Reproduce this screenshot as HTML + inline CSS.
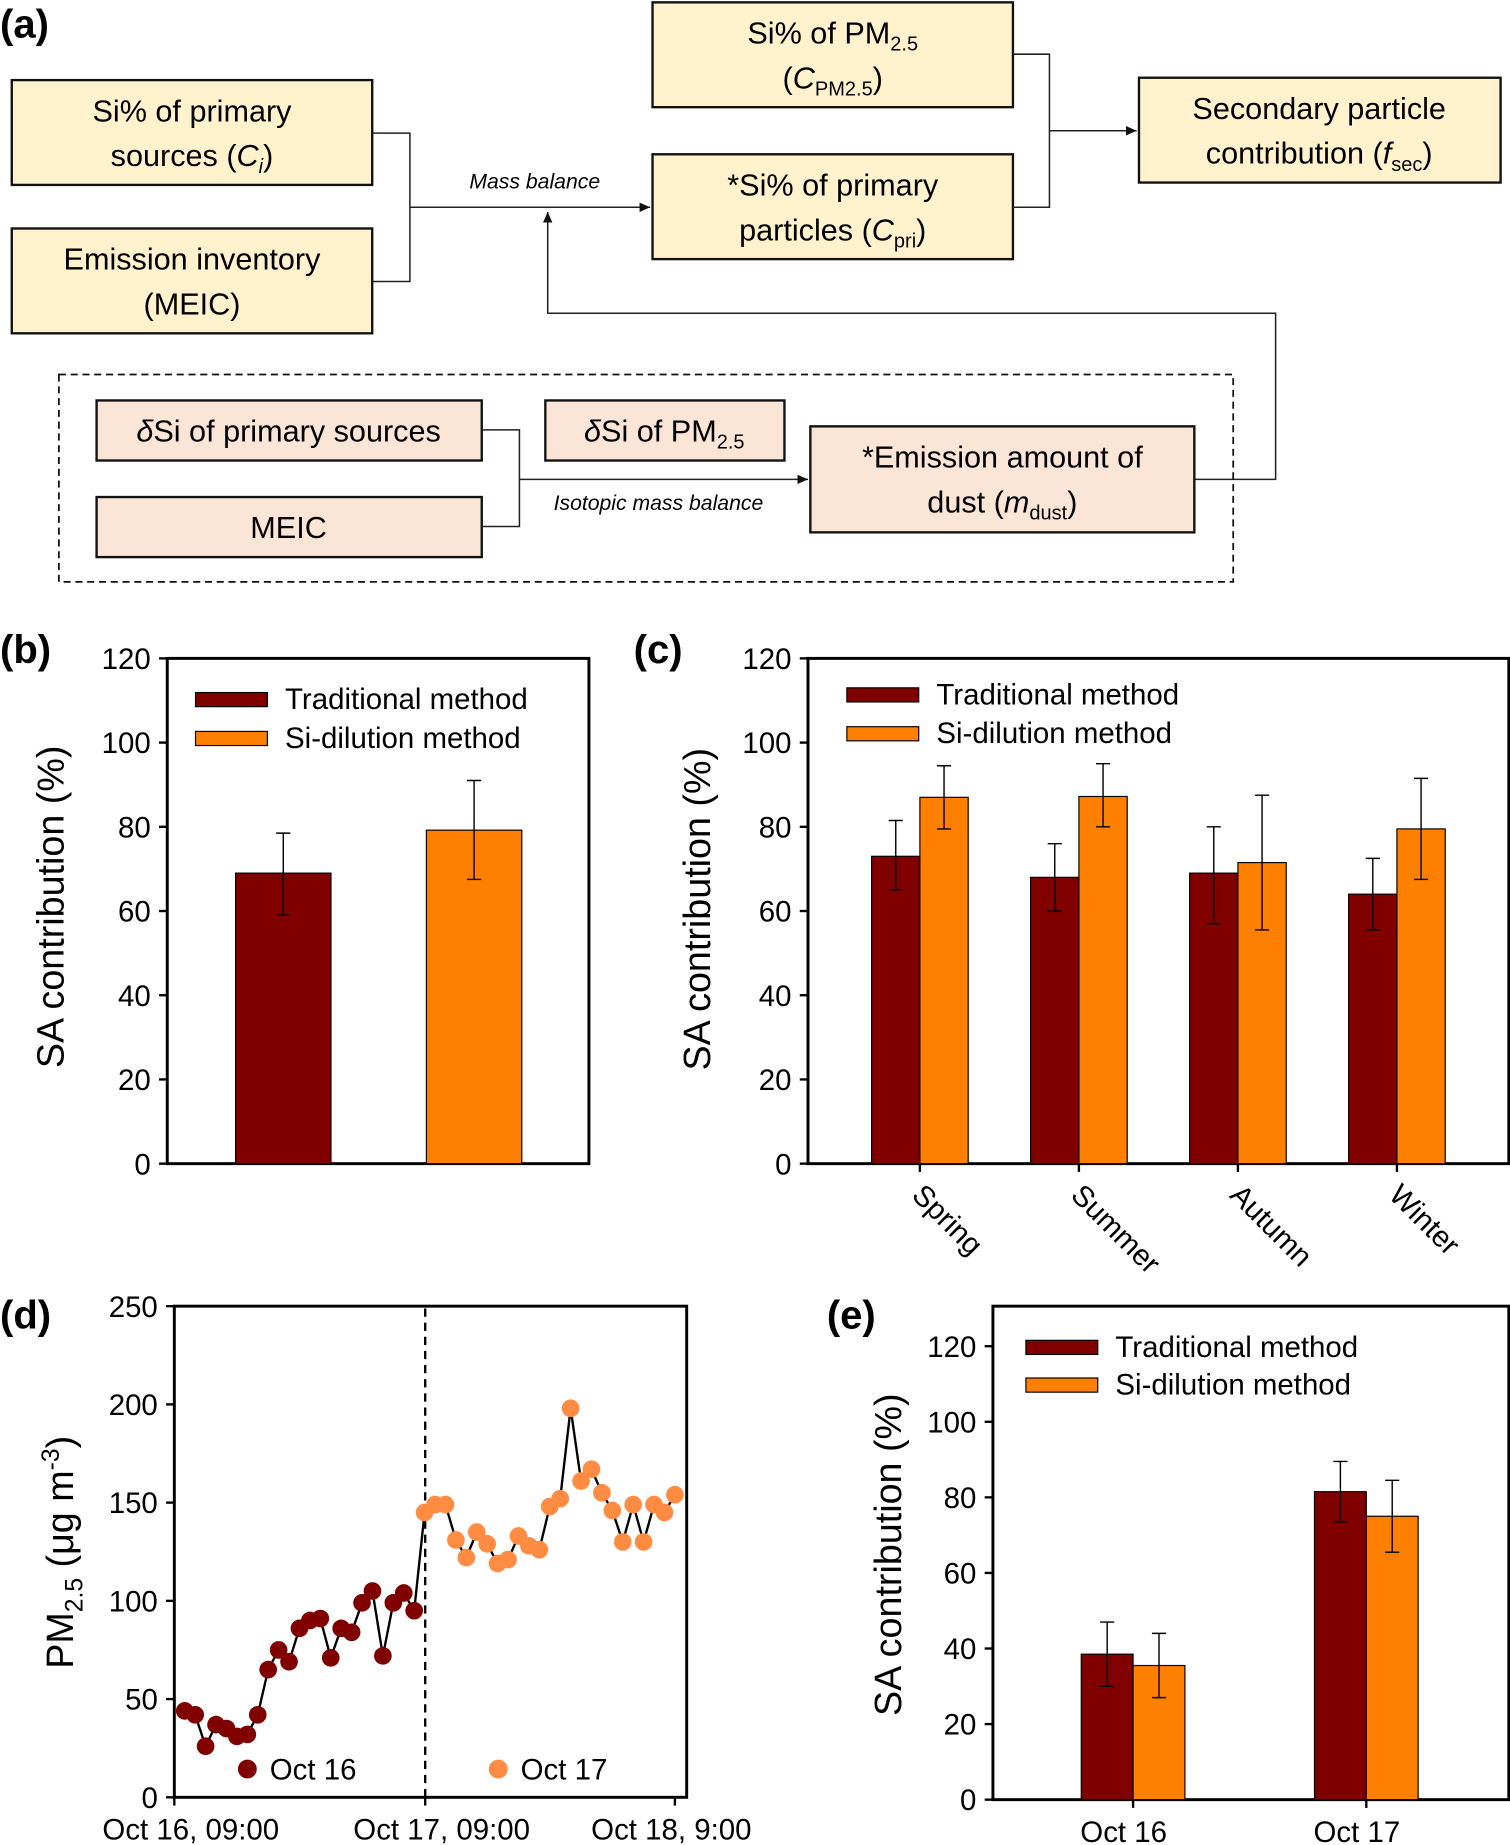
<!DOCTYPE html>
<html><head><meta charset="utf-8"><style>
html,body{margin:0;padding:0;background:#fff;}
svg{display:block;font-family:"Liberation Sans",sans-serif;}
.bx{stroke:#111;stroke-width:2;}
.dt{font-size:26px;fill:#000;text-anchor:middle;}
.ln{stroke:#222;stroke-width:1.3;fill:none;}
.tk{font-size:25px;fill:#000;}
</style></head><body>
<svg id="fig" width="1510" height="1845" viewBox="0 0 1282 1566.5" preserveAspectRatio="none" xmlns="http://www.w3.org/2000/svg">
<defs><marker id="ar" markerWidth="10" markerHeight="10" refX="9" refY="5" orient="auto" markerUnits="userSpaceOnUse"><path d="M0,1 L9,5 L0,9 Z" fill="#111"/></marker></defs>
<g>
<text x="0" y="32" font-size="34" font-weight="bold">(a)</text>
<rect class="bx" x="10" y="68" width="306" height="89" fill="#fff2cc"/>
<text class="dt" x="163" y="103">Si% of primary</text><text class="dt" x="163" y="141">sources (<tspan font-style="italic">C</tspan><tspan font-style="italic" font-size="17" dy="6">i</tspan><tspan dy="-6">)</tspan></text>
<rect class="bx" x="10" y="194" width="306" height="89" fill="#fff2cc"/>
<text class="dt" x="163" y="229">Emission inventory</text><text class="dt" x="163" y="267">(MEIC)</text>
<rect class="bx" x="554" y="2" width="306" height="89" fill="#fff2cc"/>
<text class="dt" x="707" y="37">Si% of PM<tspan font-size="17" dy="6">2.5</tspan></text><text class="dt" x="707" y="75">(<tspan font-style="italic">C</tspan><tspan font-size="17" dy="6">PM2.5</tspan><tspan dy="-6">)</tspan></text>
<rect class="bx" x="554" y="131" width="306" height="89" fill="#fff2cc"/>
<text class="dt" x="707" y="166">*Si% of primary</text><text class="dt" x="707" y="204">particles (<tspan font-style="italic">C</tspan><tspan font-size="17" dy="6">pri</tspan><tspan dy="-6">)</tspan></text>
<rect class="bx" x="967" y="66" width="307" height="89" fill="#fff2cc"/>
<text class="dt" x="1120" y="101">Secondary particle</text><text class="dt" x="1120" y="139">contribution (<tspan font-style="italic">f</tspan><tspan font-size="17" dy="6">sec</tspan><tspan dy="-6">)</tspan></text>
<path class="ln" d="M316,113 H348 V239 H316 M348,176 H552" marker-end="url(#ar)"/>
<text x="454" y="160" font-size="18" font-style="italic" text-anchor="middle">Mass balance</text>
<path class="ln" d="M860,46 H891 V176 H860 M891,111 H965" marker-end="url(#ar)"/>
<path class="ln" d="M1014,407 H1083 V266 H465 V180" marker-end="url(#ar)"/>
<rect x="50" y="318" width="997" height="176" fill="none" stroke="#111" stroke-width="1.5" stroke-dasharray="6,4"/>
<rect class="bx" x="82" y="340" width="327" height="51" fill="#fbe5d6"/>
<text class="dt" x="245" y="375"><tspan font-style="italic">δ</tspan>Si of primary sources</text>
<rect class="bx" x="82" y="422" width="327" height="51" fill="#fbe5d6"/>
<text class="dt" x="245" y="457">MEIC</text>
<rect class="bx" x="463" y="340" width="203" height="51" fill="#fbe5d6"/>
<text class="dt" x="564" y="375"><tspan font-style="italic">δ</tspan>Si of PM<tspan font-size="17" dy="6">2.5</tspan></text>
<rect class="bx" x="688" y="362" width="326" height="90" fill="#fbe5d6"/>
<text class="dt" x="851" y="397">*Emission amount of</text><text class="dt" x="851" y="435">dust (<tspan font-style="italic">m</tspan><tspan font-size="17" dy="6">dust</tspan><tspan dy="-6">)</tspan></text>
<path class="ln" d="M409,365 H441 V447 H409 M441,407 H686" marker-end="url(#ar)"/>
<text x="559" y="433" font-size="18" font-style="italic" text-anchor="middle">Isotopic mass balance</text>
</g>
<g id="charts"></g>
</svg>
<script>
const NS="http://www.w3.org/2000/svg";
const root=document.getElementById('charts');
function mk(tag,attrs,parent,text){const e=document.createElementNS(NS,tag);for(const k in attrs)e.setAttribute(k,attrs[k]);if(text!==undefined)e.textContent=text;(parent||root).appendChild(e);return e;}
const DARK="#800000",ORG="#ff8000",LORG="#ff8c42";

// Panel b data
const bMethods=["Traditional method","Si-dilution method"];
const bValues=[69,79.2];
const bLow=[59,67.5];
const bHigh=[78.5,91];
// Panel c data
const cSeasons=["Spring","Summer","Autumn","Winter"];
const cTrad=[73,68,69,64];
const cTradLow=[65,60,57,55.5];
const cTradHigh=[81.5,76,80,72.5];
const cSi=[87,87.2,71.5,79.5];
const cSiLow=[79.5,80,55.5,67.5];
const cSiHigh=[94.5,95,87.5,91.5];
const barTicks=[0,20,40,60,80,100,120];
// Panel d data
const dOct16=[44,42,26,37,35,31,32,42,65,75,69,86,90,91,71,86,84,99,105,72,99,104,95];
const dOct17=[145,149,149,131,122,135,129,119,121,133,128,126,148,152,198,161,167,155,146,130,149,130,149,145,154];
const dTicks=[0,50,100,150,200,250];
const dXLabels=["Oct 16, 09:00","Oct 17, 09:00","Oct 18, 9:00"];
// Panel e data
const eDays=["Oct 16","Oct 17"];
const eTrad=[38.5,81.5];
const eTradLow=[30,73.5];
const eTradHigh=[47,89.5];
const eSi=[35.5,75];
const eSiLow=[27,65.5];
const eSiHigh=[44,84.5];

function yAxis(g,ticks,y,x,name){ticks.forEach(t=>{const l=mk('line',{x1:x-7,x2:x,y1:y(t),y2:y(t),stroke:'#000','stroke-width':2},g);const tx=mk('text',{x:x-14,y:y(t)+9,'text-anchor':'end',class:'tk'},g,String(t));});}
function bar(g,x,w,v,y,col,name){const r=mk('rect',{x:x,y:y(v),width:w,height:y(0)-y(v),fill:col,stroke:'#000','stroke-width':1},g);}
function err(g,cx,lo,hi,y,name){const p=mk('path',{d:`M${cx},${y(lo)}V${y(hi)}M${cx-6},${y(lo)}H${cx+6}M${cx-6},${y(hi)}H${cx+6}`,stroke:'#000','stroke-width':1.2,fill:'none'},g);}
function legend(g,x,y,gap,name){[[DARK,bMethods[0]],[ORG,bMethods[1]]].forEach((d,i)=>{const r=mk('rect',{x:x,y:y+i*gap-14,width:61,height:12,fill:d[0],stroke:'#000','stroke-width':1},g);const t=mk('text',{x:x+76,y:y+i*gap,'font-size':25},g,d[1]);});}
function ylabel(g,x,y,name,html){const t=mk('text',{x:x,y:y,'font-size':32,'text-anchor':'middle',transform:`rotate(-90 ${x} ${y})`},g);t.innerHTML=html;}
function plabel(g,x,y,s,name){const t=mk('text',{x:x,y:y,'font-size':34,'font-weight':'bold'},g,s);}

// Panel b
(function(){const g=mk('g',{});
const y=v=>988-v*(429/120);
plabel(g,0,563,'(b)','panel-b-label');
const f=mk('rect',{x:142,y:559,width:358,height:429,fill:'none',stroke:'#000','stroke-width':2.5},g);
yAxis(g,barTicks,y,142,'panel-b-y');
ylabel(g,54,770,'panel-b-y-axis-title','SA contribution (%)');
const xs=[200,362],cols=[DARK,ORG];
bValues.forEach((v,i)=>{bar(g,xs[i],81,v,y,cols[i],'panel-b-bar-'+i);err(g,xs[i]+40.5,bLow[i],bHigh[i],y,'panel-b-error-'+i);});
legend(g,166,602,33,'panel-b-legend');})();

// Panel c
(function(){const g=mk('g',{});
const y=v=>988-v*(429/120);const cx=i=>781+i*135;
plabel(g,538,563,'(c)','panel-c-label');
const f=mk('rect',{x:686,y:559,width:595,height:429,fill:'none',stroke:'#000','stroke-width':2.5},g);
yAxis(g,barTicks,y,686,'panel-c-y');
ylabel(g,603,772,'panel-c-y-axis-title','SA contribution (%)');
cSeasons.forEach((s,i)=>{const c=cx(i);
bar(g,c-41,41,cTrad[i],y,DARK,'panel-c-bar-trad-'+s.toLowerCase());err(g,c-20.5,cTradLow[i],cTradHigh[i],y,'panel-c-error-trad');
bar(g,c,41,cSi[i],y,ORG,'panel-c-bar-si-'+s.toLowerCase());err(g,c+20.5,cSiLow[i],cSiHigh[i],y,'panel-c-error-si');
const tk=mk('line',{x1:c,x2:c,y1:988,y2:995,stroke:'#000','stroke-width':2},g);
const t=mk('text',{x:c-8,y:1016,'font-size':25,transform:`rotate(45 ${c-8} 1016)`},g,s);});
legend(g,719,598,33,'panel-c-legend');})();

// Panel d
(function(){const g=mk('g',{});
const y=v=>1526-v*(417/250);const x=i=>148+(i+1)*(425/48);
plabel(g,0,1128,'(d)','panel-d-label');
const f=mk('rect',{x:148,y:1109,width:435,height:417,fill:'none',stroke:'#000','stroke-width':2.5},g);
yAxis(g,dTicks,y,148,'panel-d-y');
ylabel(g,62,1318,'panel-d-y-axis-title','PM<tspan font-size="21" dy="8">2.5</tspan><tspan dy="-8"> (μg m</tspan><tspan font-size="21" dy="-12">-3</tspan><tspan dy="12">)</tspan>');
[148,361,573].forEach((px,i)=>{const tk=mk('line',{x1:px,x2:px,y1:1526,y2:1533,stroke:'#000','stroke-width':2},g);
const t=mk('text',{x:px+(i==2?-3:14),y:1562,'text-anchor':'middle','font-size':25},g,dXLabels[i]);});
const dl=mk('line',{x1:361,x2:361,y1:1111,y2:1526,stroke:'#000','stroke-width':2,'stroke-dasharray':'7,5'},g);
const all=dOct16.concat(dOct17);
const p=mk('polyline',{points:all.map((v,i)=>x(i)+','+y(v)).join(' '),fill:'none',stroke:'#000','stroke-width':2},g);
all.forEach((v,i)=>{const c=mk('circle',{cx:x(i),cy:y(v),r:7.5,fill:i<dOct16.length?DARK:LORG},g);});
[[210,DARK,'Oct 16'],[423,LORG,'Oct 17']].forEach(d=>{const c=mk('circle',{cx:d[0],cy:1502,r:8,fill:d[1]},g);const t=mk('text',{x:d[0]+19,y:1511,'font-size':25},g,d[2]);});})();

// Panel e
(function(){const g=mk('g',{});
const y=v=>1528-v*(385/120);const cx=i=>962+i*198;
plabel(g,702,1128,'(e)','panel-e-label');
const f=mk('rect',{x:843,y:1109,width:438,height:419,fill:'none',stroke:'#000','stroke-width':2.5},g);
yAxis(g,barTicks,y,843,'panel-e-y');
ylabel(g,765,1320,'panel-e-y-axis-title','SA contribution (%)');
eDays.forEach((d,i)=>{const c=cx(i);
bar(g,c-44,44,eTrad[i],y,DARK,'panel-e-bar-trad-'+i);err(g,c-22,eTradLow[i],eTradHigh[i],y,'panel-e-error-trad');
bar(g,c,44,eSi[i],y,ORG,'panel-e-bar-si-'+i);err(g,c+22,eSiLow[i],eSiHigh[i],y,'panel-e-error-si');
const tk=mk('line',{x1:c,x2:c,y1:1528,y2:1535,stroke:'#000','stroke-width':2},g);
const t=mk('text',{x:c-8,y:1564,'text-anchor':'middle','font-size':25},g,d);});
legend(g,871,1152,32,'panel-e-legend');})();
</script>
</body></html>
